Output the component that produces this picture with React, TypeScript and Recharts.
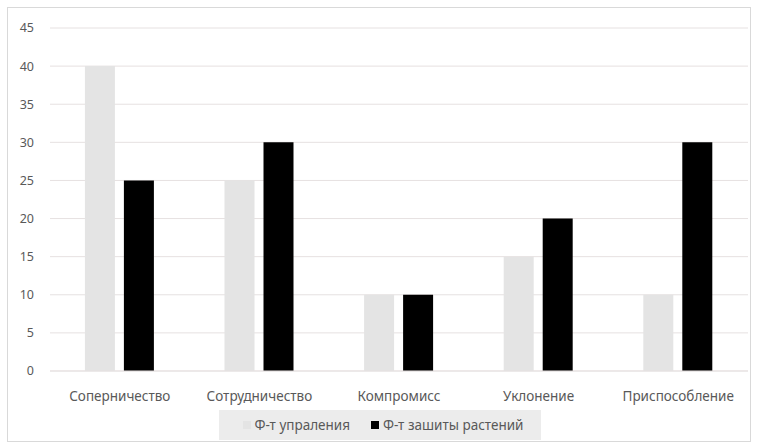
import { Bar, BarChart, CartesianGrid, Legend, XAxis, YAxis } from "recharts";

const categories = ["Соперничество", "Сотрудничество", "Компромисс", "Уклонение", "Приспособление"];
const managementValues = [40, 25, 10, 15, 10];
const plantProtectionValues = [25, 30, 10, 20, 30];
const yTicks = [0, 5, 10, 15, 20, 25, 30, 35, 40, 45];

const seriesNames = { management: "Ф-т упраления", plant: "Ф-т зашиты растений" };
const colors = { management: "#e4e4e4", plant: "#000000" };

const data = categories.map((name, i) => ({
  name,
  management: managementValues[i],
  plant: plantProtectionValues[i],
}));

const textColor = "#595959";
const fontFamily = "'Noto Sans', 'Open Sans', sans-serif";

function ChartLegend() {
  return (
    <div style={{ display: "flex", justifyContent: "center", paddingTop: 9, paddingLeft: 4 }}>
      <div
        style={{
          display: "flex",
          alignItems: "center",
          background: "#ececec",
          padding: "6px 18px 6px 24px",
          fontFamily,
          fontSize: 13.5,
          color: textColor,
        }}
      >
        {(["management", "plant"] as const).map((key, i) => (
          <div
            key={key}
            style={{ display: "flex", alignItems: "center", gap: 4, marginLeft: i === 0 ? 0 : 21 }}
          >
            <div style={{ width: 8, height: 8, background: colors[key] }} />
            <span>{seriesNames[key]}</span>
          </div>
        ))}
      </div>
    </div>
  );
}

export default function App() {
  return (
    <div style={{ position: "absolute", left: 0, top: 0, width: 760, height: 448, background: "#fff" }}>
      <div
        style={{
          position: "absolute",
          left: 7,
          top: 7,
          width: 744,
          height: 435,
          border: "1px solid #d9d9d9",
          boxSizing: "border-box",
        }}
      />
      <BarChart
        width={760}
        height={448}
        data={data}
        margin={{ top: 28, right: 12, left: 8, bottom: 5 }}
        barCategoryGap="25%"
        barGap={9}
      >
        <CartesianGrid vertical={false} stroke="#e6e1e1" />
        <XAxis
          dataKey="name"
          height={30}
          axisLine={{ stroke: "#e6e1e1" }}
          tickLine={false}
          tick={{ fill: textColor, fontSize: 13.5, fontFamily }}
          tickMargin={14}
        />
        <YAxis
          width={42}
          domain={[0, 45]}
          ticks={yTicks}
          axisLine={false}
          tickLine={false}
          tick={{ fill: textColor, fontSize: 12.5, fontFamily }}
          tickMargin={10}
        />
        <Legend verticalAlign="bottom" height={42} content={() => <ChartLegend />} />
        <Bar dataKey="management" name={seriesNames.management} fill={colors.management} isAnimationActive={false} />
        <Bar dataKey="plant" name={seriesNames.plant} fill={colors.plant} isAnimationActive={false} />
      </BarChart>
    </div>
  );
}
